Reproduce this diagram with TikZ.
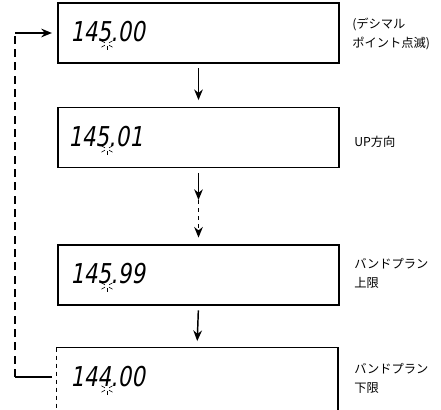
\documentclass[tikz,border=0pt]{standalone}
\usepackage{fontspec}
\newfontfamily\jpfont{Noto Sans CJK JP}
\newfontfamily\segfont{DejaVu Sans}[FakeSlant=0.18,FakeStretch=0.78]
\usetikzlibrary{arrows.meta,positioning}

\tikzset{
  panel/.style={minimum width=210.75pt,minimum height=45pt,inner sep=0pt},
  digits/.style={font=\segfont\fontsize{20.5}{20.5}\selectfont,anchor=west,inner sep=0pt},
  note/.style={font=\jpfont\fontsize{9.2}{14.2}\selectfont,anchor=west,align=left,inner sep=0pt},
  flow/.style={-{Stealth[length=8pt,width=6.5pt]},line width=1.1pt},
  blink/.pic={\foreach \a in {-150,-90,-30,30,150}{ \draw[line width=0.45pt] (\a:1.8pt) -- (\a:4.8pt); }},
}

\begin{document}
\begin{tikzpicture}[x=0.75pt,y=-0.75pt]
  \useasboundingbox (0,0) rectangle (441,409);
  % the four readings, one under the other
  \node[panel,draw,line width=1.1pt] (p1) at (198.5,33) {};
  \node[panel,draw,line width=1.1pt] (p2) at (198.5,137.5) {};
  \node[panel,draw,line width=1.1pt] (p3) at (198.5,275) {};
  \begin{scope}
    \clip (0,0) rectangle (441,409);
    \node[panel,minimum height=63pt] (p4) at (197,390) {};
    \draw[line width=1.1pt] (p4.north west) -- (p4.north east) -- (p4.south east);
    \draw[line width=0.6pt,dashed] (p4.north west) -- (p4.south west);
  \end{scope}
  \node[digits] (d1) at (70,32) {145.00};
  \node[digits] (d2) at (68,137) {145.01};
  \node[digits] (d3) at (70,274) {145.99};
  \node[digits] (d4) at (70,377) {144.00};
  \foreach \n/\y in {1/44,2/149,3/286,4/389}{ \pic (bl\n) at (107,\y) {blink}; }
  % notes on the right
  \node[note] (n1) at (352,34) {(デシマル\\ポイント点滅)};
  \node[note] (n2) at (354,142) {UP方向};
  \node[note] (n3) at (354,273) {バンドプラン\\上限};
  \node[note] (n4) at (354,378) {バンドプラン\\下限};
  % arrows down the column
  \draw[flow,shorten <=3.5pt,shorten >=5pt] (p1.south) -- (p2.north);
  \coordinate (mid) at (198.5,200);
  \draw[flow,shorten <=3.5pt] (p2.south) -- (mid);
  \draw[flow,dashed,shorten >=5pt] (mid) -- (p3.north);
  \draw[flow,shorten <=3.5pt,shorten >=5pt] (p3.south) -- (p4.north);
  % back from the lower limit to the start
  \coordinate (lpe) at (52,377);
  \coordinate (lpb) at (15,377);
  \coordinate (lpt) at (15,33);
  \draw[line width=1.1pt] (lpe) -- (lpb);
  \draw[line width=1.1pt,dash pattern=on 6pt off 4pt] (lpb) -- (lpt);
  \draw[flow,shorten >=4pt] (lpt) -- (p1.west);
\end{tikzpicture}
\end{document}
